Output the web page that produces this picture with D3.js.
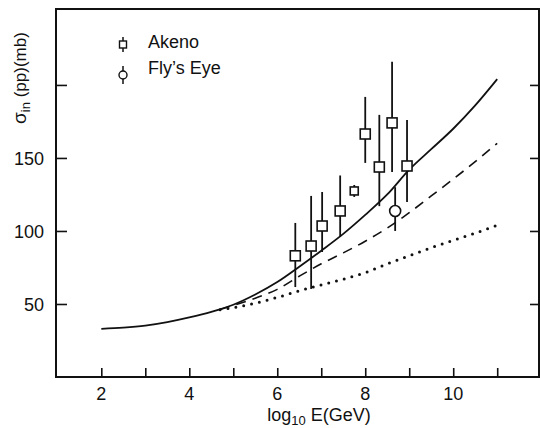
<!DOCTYPE html>
<html><head><meta charset="utf-8">
<script src="https://cdn.jsdelivr.net/npm/d3@7"></script>
<style>
body{margin:0;background:#fff;}
svg{display:block;}
text{font-family:"Liberation Sans",Arial,sans-serif;fill:#111;}
</style></head>
<body>
<svg id="c" width="540" height="428"></svg>
<script>
// ---- data ----
const xTicks = [2,3,4,5,6,7,8,9,10,11];
const xTickLabels = [2,4,6,8,10];
const yTicks = [50,100,150,200];
const yTickLabels = [50,100,150];

const solidX = [2,2.5,3,3.5,4,4.5,5,5.5,6,6.5,7,7.5,8,8.5,9,9.5,10,10.5,11];
const solidY = [33,33.8,35.2,37.6,40.8,44.6,49.5,56.5,65,75.5,86.5,98,111,125,142,156,170,186,204];

const dashedX = [4.7,5,5.5,6,6.5,7,7.5,8,8.5,9,9.5,10,10.5,11];
const dashedY = [46.2,49,54,60,69,77.5,85,93,102,112.5,124,135.5,147.5,160];

const dottedX = [4.7,5,5.5,6,6.5,7,7.5,8,8.5,9,9.5,10,10.5,11];
const dottedY = [46,47.5,50.5,54.5,59,63,67,71.5,77.5,83,88.5,93.5,98.5,104];

const akenoX  = [6.41,6.77,7.02,7.43,7.75,8.0,8.32,8.61,8.95];
const akenoY  = [83,89.7,103.4,113.7,127.4,166.4,143.8,174,144.5];
const akenoHi = [105.5,124,126.7,138,131.5,191.8,179.5,215.8,176];
const akenoLo = [61.6,60.3,85.6,95.9,123.3,146.6,117,140.4,119.9];

const flyX  = [8.68];
const flyY  = [113.7];
const flyHi = [130];
const flyLo = [100];

// ---- layout ----
const L=56, R=539, T=9, B=377;
const svg = d3.select("#c");
const x = d3.scaleLinear().domain([0.97, 11.95]).range([L, R]);
const y = d3.scaleLinear().domain([0, 252]).range([B, T]);

// frame
svg.append("path")
  .attr("d", `M${L},${T}H${R}V${B}H${L}Z`)
  .attr("fill","none").attr("stroke","#111").attr("stroke-width",2);

// x ticks
const gx = svg.append("g").attr("transform",`translate(0,${B})`);
gx.call(d3.axisBottom(x).tickValues(xTicks).tickSize(-9).tickFormat(""))
  .call(g=>g.select(".domain").remove())
  .call(g=>g.selectAll("line").attr("stroke","#111").attr("stroke-width",1.6));
svg.append("g").selectAll("text").data(xTickLabels).join("text")
  .attr("x",d=>x(d)).attr("y",B+23).attr("text-anchor","middle")
  .attr("font-size",18).text(d=>d);

// y ticks left
const gy = svg.append("g").attr("transform",`translate(${L},0)`);
gy.call(d3.axisLeft(y).tickValues(yTicks).tickSize(-11).tickFormat(""))
  .call(g=>g.select(".domain").remove())
  .call(g=>g.selectAll("line").attr("stroke","#111").attr("stroke-width",1.6));
// y ticks right
const gyr = svg.append("g").attr("transform",`translate(${R},0)`);
gyr.call(d3.axisRight(y).tickValues(yTicks).tickSize(-9).tickFormat(""))
  .call(g=>g.select(".domain").remove())
  .call(g=>g.selectAll("line").attr("stroke","#111").attr("stroke-width",1.6));
svg.append("g").selectAll("text").data(yTickLabels).join("text")
  .attr("x",L-12).attr("y",d=>y(d)+7).attr("text-anchor","end")
  .attr("font-size",18).text(d=>d);

// axis titles
const xt = svg.append("text").attr("x",319).attr("y",421).attr("text-anchor","middle").attr("font-size",18);
xt.append("tspan").text("log");
xt.append("tspan").attr("font-size",13).attr("dy",4).text("10");
xt.append("tspan").attr("dy",-4).text(" E(GeV)");

const yt = svg.append("text").attr("transform","translate(26,78) rotate(-90)")
  .attr("text-anchor","middle").attr("font-size",17);
yt.append("tspan").attr("font-size",19).text("σ");
yt.append("tspan").attr("font-size",13).attr("dy",4).text("in");
yt.append("tspan").attr("dy",-4).text(" (pp)(mb)");

// curves
const line = d3.line().x(d=>x(d[0])).y(d=>y(d[1])).curve(d3.curveMonotoneX);
svg.append("path").datum(d3.zip(solidX, solidY)).attr("d",line)
  .attr("fill","none").attr("stroke","#111").attr("stroke-width",1.8);
svg.append("path").datum(d3.zip(dashedX, dashedY)).attr("d",line)
  .attr("fill","none").attr("stroke","#111").attr("stroke-width",1.6).attr("stroke-dasharray","10,7");
svg.append("path").datum(d3.zip(dottedX, dottedY)).attr("d",line)
  .attr("fill","none").attr("stroke","#111").attr("stroke-width",3)
  .attr("stroke-linecap","round").attr("stroke-dasharray","0,8");

// Akeno error bars + squares
const ak = d3.range(akenoX.length);
svg.append("g").selectAll("line").data(ak).join("line")
  .attr("x1",i=>x(akenoX[i])).attr("x2",i=>x(akenoX[i]))
  .attr("y1",i=>y(akenoHi[i])).attr("y2",i=>y(akenoLo[i]))
  .attr("stroke","#111").attr("stroke-width",1.8);
svg.append("g").selectAll("rect").data(ak).join("rect")
  .attr("x",i=>x(akenoX[i])-5).attr("y",i=>y(akenoY[i])-5)
  .attr("width",i=> i===4?8:10).attr("height",i=> i===4?8:10)
  .attr("transform",i=> i===4?"translate(1,1)":null)
  .attr("fill","#fff").attr("stroke","#111").attr("stroke-width",1.6);

// Fly's Eye
const fl = d3.range(flyX.length);
svg.append("g").selectAll("line").data(fl).join("line")
  .attr("x1",i=>x(flyX[i])).attr("x2",i=>x(flyX[i]))
  .attr("y1",i=>y(flyHi[i])).attr("y2",i=>y(flyLo[i]))
  .attr("stroke","#111").attr("stroke-width",1.8);
svg.append("g").selectAll("circle").data(fl).join("circle")
  .attr("cx",i=>x(flyX[i])).attr("cy",i=>y(flyY[i])).attr("r",5.5)
  .attr("fill","#fff").attr("stroke","#111").attr("stroke-width",1.6);

// legend
const lg = svg.append("g");
lg.append("line").attr("x1",123).attr("x2",123).attr("y1",37).attr("y2",52).attr("stroke","#111").attr("stroke-width",1.5);
lg.append("rect").attr("x",119.5).attr("y",41).attr("width",7).attr("height",7).attr("fill","#fff").attr("stroke","#111").attr("stroke-width",1.4);
lg.append("text").attr("x",148).attr("y",48).attr("font-size",18).text("Akeno");
lg.append("line").attr("x1",123).attr("x2",123).attr("y1",66).attr("y2",84).attr("stroke","#111").attr("stroke-width",1.5);
lg.append("circle").attr("cx",123).attr("cy",75).attr("r",4).attr("fill","#fff").attr("stroke","#111").attr("stroke-width",1.4);
lg.append("text").attr("x",148).attr("y",74).attr("font-size",18).text("Fly’s Eye");
</script>
</body></html>
